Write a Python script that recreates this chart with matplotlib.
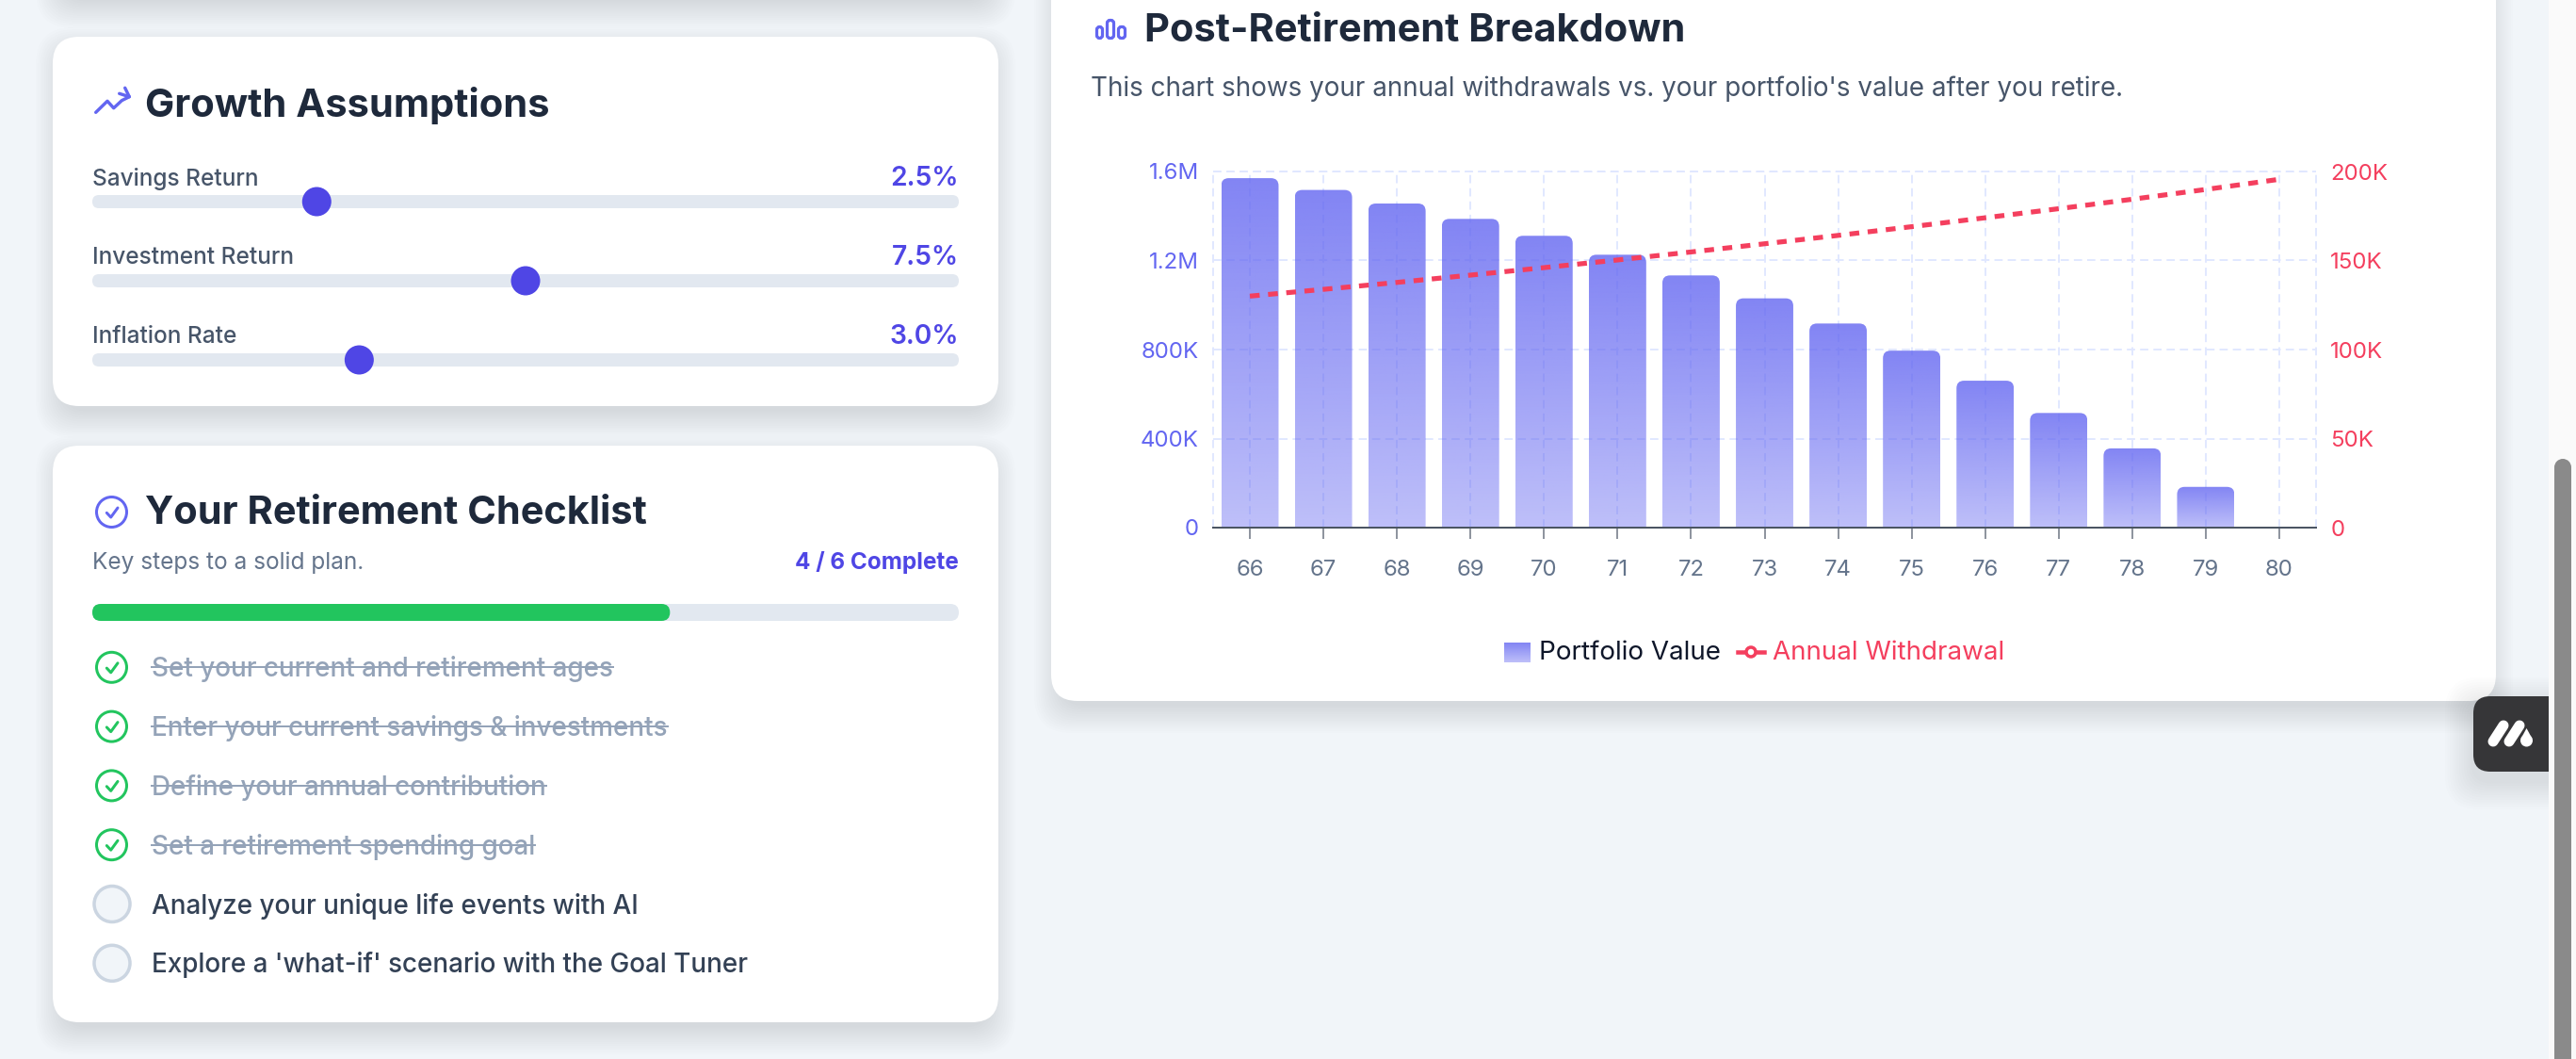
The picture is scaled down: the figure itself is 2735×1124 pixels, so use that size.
import numpy as np
import matplotlib
matplotlib.use("Agg")
import matplotlib.pyplot as plt
from matplotlib.patches import FancyBboxPatch, Circle, Polygon

plt.rcParams['font.family'] = ['Inter', 'DejaVu Sans']

W, H = 2735, 1124
PX = 0.72  # one pixel in points at dpi 100

# chart data
ages = [66, 67, 68, 69, 70, 71, 72, 73, 74, 75, 76, 77, 78, 79, 80]
portfolio = [1570000, 1517000, 1456000, 1387000, 1311000, 1226000, 1133000, 1030000,
             917000, 795000, 660000, 515000, 356000, 183000, 0]
withdrawal = [130000, 133800, 137700, 141800, 146000, 150300, 154800, 159400,
              164100, 169000, 174000, 179100, 184400, 189900, 195600]
left_ticks = [0, 400000, 800000, 1200000, 1600000]
left_labels = ['0', '400K', '800K', '1.2M', '1.6M']
right_ticks = [0, 50000, 100000, 150000, 200000]
right_labels = ['0', '50K', '100K', '150K', '200K']

# sliders
slider_names = ['Savings Return', 'Investment Return', 'Inflation Rate']
slider_values = ['2.5%', '7.5%', '3.0%']
slider_fraction = [0.259, 0.50, 0.308]

# checklist
todo_items = ['Set your current and retirement ages', 'Enter your current savings & investments',
              'Define your annual contribution', 'Set a retirement spending goal',
              'Analyze your unique life events with AI', "Explore a 'what-if' scenario with the Goal Tuner"]
todo_done = [True, True, True, True, False, False]
done_count = 4

INDIGO = '#4f46e5'
ICON = '#6366f1'
ROSE = '#f43f5e'
DARK = '#1e293b'
TRACK = '#e2e8f0'
GREEN = '#22c55e'
PAGE = '#f1f5f9'

fig = plt.figure(figsize=(W / 100, H / 100), dpi=100, facecolor=PAGE)

# whole page in pixel coordinates
page = fig.add_axes([0, 0, 1, 1])
page.set_xlim(0, W)
page.set_ylim(H, 0)
page.axis('off')


def rbox(x0, y0, x1, y1, r, **kw):
    p = FancyBboxPatch((x0, y0), x1 - x0, y1 - y0, boxstyle=f'round,pad=0,rounding_size={r}',
                       linewidth=0, **kw)
    page.add_patch(p)
    return p


def card(x0, y0, x1, y1):
    # soft shadow from stacked boxes
    for i in range(14):
        g = 22 - i * 2.2
        rbox(x0 - g + 4, y0 + 12 - g, x1 + g - 4, y1 + 12 + g, 28 + g * 0.5, color='#0f172a', alpha=0.007)
    rbox(x0, y0, x1, y1, 28, color='white')


def label(x, y, s, size, color, weight='normal', ha='left'):
    return page.text(x, y - 1.5, s, fontsize=size, color=color, fontweight=weight, ha=ha, va='center_baseline')


def stroke(xs, ys, color, width):
    page.plot(xs, ys, color=color, lw=width * PX, solid_capstyle='round', solid_joinstyle='round')


card(56, -300, 1060, -4)
card(56, 39, 1060, 431)
card(56, 473, 1060, 1085)
card(1116, -300, 2650, 744)

# floating widget
for i in range(12):
    g = 30 - i * 2.5
    rbox(2626 - g, 739 + 10 - g, 2760, 819 + 10 + g, 20 + g * 0.5, color='#0f172a', alpha=0.008)
rbox(2626, 739, 2760, 819, 18, color='#363638')
stroke([2647, 2658], [787, 770], 'white', 11)
stroke([2664, 2675], [787, 770], 'white', 11)
page.add_patch(Circle((2682.5, 786), 6.5, color='white', lw=0))
page.add_patch(Polygon([[2676.5, 784], [2682.5, 773], [2688.5, 784]], color='white', lw=0))

# scrollbar
page.fill_between([2706, W], 0, H, color='#fafafa', lw=0)
page.fill_between([2712, 2730], 496, H, color='#8a8a8a', lw=0)
page.add_patch(Circle((2721, 496), 9, color='#8a8a8a', lw=0))

# growth card
stroke([101.7, 114, 120.7, 129.3, 137.3], [119.3, 107.3, 114.7, 106.7, 102.7], ICON, 3.4)
stroke([126.7, 137.3, 132.7], [99.3, 102.7, 93.3], ICON, 3.4)
label(154.5, 109, 'Growth Assumptions', 30, DARK, 'bold')
for i, name in enumerate(slider_names):
    cy = 214 + i * 84
    label(98, cy - 25, name, 17.6, '#475569', 'medium')
    label(1018, cy - 26, slider_values[i], 20.3, INDIGO, 'semibold', ha='right')
    rbox(98, cy - 7, 1018, cy + 7, 7, color=TRACK)
    page.add_patch(Circle((98 + slider_fraction[i] * 920, cy), 15.5, color=INDIGO, lw=0))

# checklist card
page.add_patch(Circle((118.5, 543.5), 16, fc='none', ec=ICON, lw=3 * PX))
stroke([113.3, 117.7, 125], [544.3, 549, 539], ICON, 3)
label(154.5, 543, 'Your Retirement Checklist', 29.9, DARK, 'bold')
label(98, 596, 'Key steps to a solid plan.', 17.6, '#64748b')
label(1018, 596, '4 / 6 Complete', 17.5, INDIGO, 'bold', ha='right')
rbox(98, 641, 1018, 659, 9, color=TRACK)
rbox(98, 641, 98 + 920 * done_count / len(todo_items), 659, 9, color=GREEN)
renderer = fig.canvas.get_renderer()
for i, item in enumerate(todo_items):
    cy = 708.3 + i * 62.8
    if todo_done[i]:
        page.add_patch(Circle((118.5, cy), 16, fc='none', ec=GREEN, lw=3 * PX))
        stroke([113.3, 117.7, 125], [cy + 0.8, cy + 5.5, cy - 4.5], GREEN, 3)
        t = label(161, cy + 0.5, item, 20.06, '#94a3b8', 'medium')
        bb = t.get_window_extent(renderer)
        page.plot([bb.x0, bb.x1], [cy, cy], color='#94a3b8', lw=2 * PX)
    else:
        page.add_patch(Circle((119, cy), 19, fc=PAGE, ec='#cbd5e1', lw=3.5 * PX))
        label(161, cy + 0.5, item, 20.06, '#334155', 'medium')

# chart card header
for bx0, bx1, by0 in [(1164.5, 1170.5, 28.5), (1175.5, 1182.5, 21.5), (1187.5, 1194.5, 28.5)]:
    rbox(bx0, by0, bx1, 40.5, 3, fc='none', ec=ICON).set(linewidth=3.2 * PX)
label(1215, 30, 'Post-Retirement Breakdown', 29.9, DARK, 'bold')
label(1158, 93, "This chart shows your annual withdrawals vs. your portfolio's value after you retire.", 20.05, '#475569')

# main chart
x0, x1, ytop, ybot = 1288, 2459, 182, 560
ax = fig.add_axes([x0 / W, 1 - ybot / H, (x1 - x0) / W, (ybot - ytop) / H])
ax.patch.set_visible(False)
ax.set_xlim(65.5, 80.5)
ax.set_ylim(0, 1600000)

grid_color = '#e0e7ff'
grid_lw = 1.9 * PX
grid_dash = (0, (4.6, 2.8))
ax.set_axisbelow(True)
ax.grid(True, color=grid_color, lw=grid_lw, linestyle=grid_dash)
ax.axvline(65.5, color=grid_color, lw=grid_lw, linestyle=grid_dash, clip_on=False)
ax.axvline(80.5, color=grid_color, lw=grid_lw, linestyle=grid_dash, clip_on=False)
ax.axhline(1600000, color=grid_color, lw=grid_lw, linestyle=grid_dash, clip_on=False)
for sp in ['left', 'right', 'top']:
    ax.spines[sp].set_visible(False)
ax.spines['bottom'].set_color('#4b5563')
ax.spines['bottom'].set_linewidth(2 * PX)

bars = ax.bar(ages, portfolio, width=0.78, color='none', linewidth=0)
px_x = 15 / (x1 - x0)
px_y = 1600000 / (ybot - ytop)
rad = 8 * px_x
gradient = np.zeros((64, 1, 4))
gradient[:, 0, :3] = np.array([99, 102, 241]) / 255
gradient[:, 0, 3] = np.linspace(0.8, 0.42, 64)
for b in bars:
    if b.get_height() <= 0:
        continue
    xl, w, h = b.get_x(), b.get_width(), b.get_height()
    shape = FancyBboxPatch((xl, -200000), w, h + 200000, boxstyle=f'round,pad=0,rounding_size={rad}',
                           mutation_aspect=px_y / px_x, fc='none', ec='none', lw=0)
    ax.add_patch(shape)
    im = ax.imshow(gradient, extent=(xl, xl + w, 0, h), aspect='auto', zorder=2, interpolation='bilinear')
    im.set_clip_path(shape)
ax.set_xlim(65.5, 80.5)
ax.set_ylim(0, 1600000)

ax.set_xticks(ages)
ax.set_xticklabels(ages)
ax.tick_params(axis='x', length=12 * PX, width=1.5 * PX, color='#6b7280', labelcolor='#64748b',
               labelsize=17.2, pad=15.5)
ax.set_yticks(left_ticks)
ax.set_yticklabels(left_labels)
ax.tick_params(axis='y', length=0, labelcolor=ICON, labelsize=17.3, pad=11)

ax2 = ax.twinx()
ax2.patch.set_visible(False)
ax2.set_ylim(0, 200000)
ax2.plot(ages, withdrawal, color=ROSE, lw=5.2 * PX, linestyle=(0, (2, 1.73)), dash_capstyle='butt')
ax2.set_yticks(right_ticks)
ax2.set_yticklabels(right_labels)
ax2.tick_params(axis='y', length=0, labelcolor=ROSE, labelsize=17.3, pad=11)
for sp in ax2.spines.values():
    sp.set_visible(False)

# legend, laid out by hand like the chart library does
swatch = np.zeros((32, 1, 4))
swatch[:, 0, :3] = np.array([99, 102, 241]) / 255
swatch[:, 0, 3] = np.linspace(0.8, 0.42, 32)
page.imshow(swatch, extent=(1597, 1625, 703, 682), aspect='auto', zorder=3)
page.set_xlim(0, W)
page.set_ylim(H, 0)
label(1634, 692, 'Portfolio Value', 20, '#0f172a')
page.plot([1845, 1873], [692, 692], color=ROSE, lw=4.5 * PX)
page.add_patch(Circle((1859, 692), 5, fc='white', ec=ROSE, lw=3.5 * PX, zorder=3))
label(1882, 692, 'Annual Withdrawal', 20, ROSE)

fig.savefig('out.png', dpi=100, facecolor=PAGE)
